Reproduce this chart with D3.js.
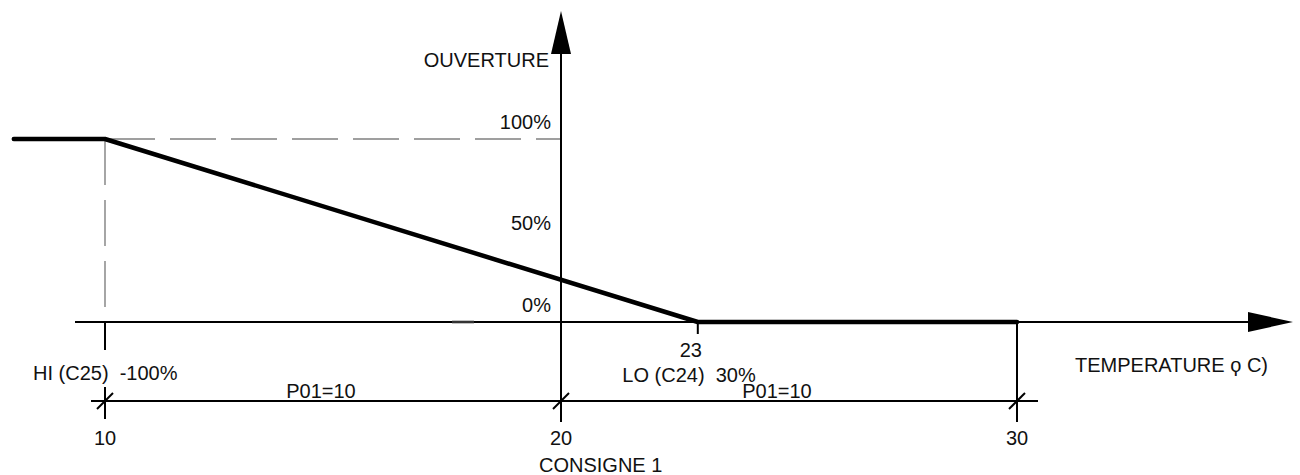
<!DOCTYPE html>
<html><head><meta charset="utf-8">
<script src="https://cdn.jsdelivr.net/npm/d3@7"></script>
<style>
body{margin:0;background:#fff;}
text{font-family:"Liberation Sans",Arial,sans-serif;font-size:20px;fill:#111;}
</style></head>
<body><svg id="c" width="1300" height="475"></svg>
<script>
// data
const xTicks = [10, 20, 30];
const yTicks = [0, 50, 100];
const yTickLabels = ["0%", "50%", "100%"];
const curveX = [8, 10, 23, 30];
const curveY = [100, 100, 0, 0];
const markX = 23;
const spans = [[10, 20, "P01=10"], [20, 30, "P01=10"]];

const svg = d3.select("#c");
const x = d3.scaleLinear().domain([10, 30]).range([105, 1017]);
const y = d3.scaleLinear().domain([0, 100]).range([322, 139]);
const x0 = x(20), y0 = y(0);
const dimY = 401;

// dashed guides
svg.append("line").attr("x1", x(10)).attr("x2", x0).attr("y1", y(100)).attr("y2", y(100))
  .attr("stroke", "#808080").attr("stroke-width", 1.4).attr("stroke-dasharray", "46,15").attr("stroke-dashoffset", -4);
svg.append("line").attr("x1", x(10)).attr("x2", x(10)).attr("y1", y(100)).attr("y2", y0)
  .attr("stroke", "#808080").attr("stroke-width", 1.4).attr("stroke-dasharray", "46,15");

// horizontal axis
svg.append("line").attr("x1", 75).attr("x2", 1252).attr("y1", y0).attr("y2", y0)
  .attr("stroke", "#000").attr("stroke-width", 2);
svg.append("line").attr("x1", 452).attr("x2", 474).attr("y1", y0).attr("y2", y0)
  .attr("stroke", "#333").attr("stroke-width", 2.6);
svg.append("path").attr("d", `M1293,${y0} L1248,${y0-10} L1248,${y0+10} Z`).attr("fill", "#000");

// vertical axis
svg.append("line").attr("x1", x0).attr("x2", x0).attr("y1", 50).attr("y2", 422)
  .attr("stroke", "#000").attr("stroke-width", 2);
svg.append("path").attr("d", `M${x0},11 L${x0-10},54 L${x0+10},54 Z`).attr("fill", "#000");

// y tick labels
const yOff = {0: -10, 50: -1, 100: -10};
svg.selectAll("text.yl").data(yTicks).join("text").attr("class", "yl")
  .attr("x", 551).attr("y", d => y(d) + yOff[d]).attr("text-anchor", "end")
  .text((d, i) => yTickLabels[i]);
svg.append("text").attr("x", 549).attr("y", 67).attr("text-anchor", "end").text("OUVERTURE");

// curve
svg.append("path").datum(curveX.map((d, i) => [d, curveY[i]]))
  .attr("d", d3.line().x(d => x(d[0])).y(d => y(d[1])))
  .attr("fill", "none").attr("stroke", "#000").attr("stroke-width", 4.5)
  .attr("stroke-linejoin", "round").attr("stroke-linecap", "round");

// extension lines
svg.append("line").attr("x1", x(10)).attr("x2", x(10)).attr("y1", y0).attr("y2", 350)
  .attr("stroke", "#000").attr("stroke-width", 2);
svg.append("line").attr("x1", x(10)).attr("x2", x(10)).attr("y1", 387).attr("y2", 419)
  .attr("stroke", "#000").attr("stroke-width", 2);
svg.append("line").attr("x1", x(30)).attr("x2", x(30)).attr("y1", y0).attr("y2", 422)
  .attr("stroke", "#000").attr("stroke-width", 2);
svg.append("line").attr("x1", x(markX)).attr("x2", x(markX)).attr("y1", y0).attr("y2", 334)
  .attr("stroke", "#000").attr("stroke-width", 2);

// dimension line
svg.append("line").attr("x1", 91).attr("x2", 1038).attr("y1", dimY).attr("y2", dimY)
  .attr("stroke", "#000").attr("stroke-width", 2);
svg.selectAll("line.sl").data(xTicks).join("line").attr("class", "sl")
  .attr("x1", d => x(d) - 8).attr("x2", d => x(d) + 8).attr("y1", dimY + 8).attr("y2", dimY - 8)
  .attr("stroke", "#000").attr("stroke-width", 2);

// tick labels
svg.selectAll("text.xl").data(xTicks).join("text").attr("class", "xl")
  .attr("x", d => x(d)).attr("y", 445).attr("text-anchor", "middle").text(d => d);
svg.append("text").attr("x", 539).attr("y", 472).text("CONSIGNE 1");
svg.append("text").attr("x", x(markX) - 7).attr("y", 357).attr("text-anchor", "middle").text(markX);
svg.append("text").attr("x", 689).attr("y", 382).attr("text-anchor", "middle").style("white-space", "pre").text("LO (C24)  30%");
svg.append("text").attr("x", 33).attr("y", 380).style("white-space", "pre").text("HI (C25)  -100%");
svg.selectAll("text.sp").data(spans).join("text").attr("class", "sp")
  .attr("x", d => (x(d[0]) + x(d[1])) / 2 - 12).attr("y", 398).attr("text-anchor", "middle").text(d => d[2]);
svg.append("text").attr("x", 1075).attr("y", 372).style("white-space", "pre").text("TEMPERATURE ϙ C)");
</script></body></html>
